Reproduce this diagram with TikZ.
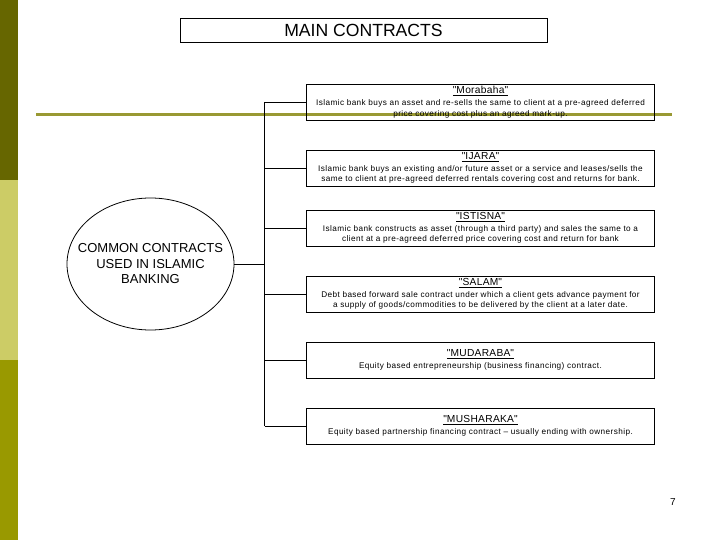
\documentclass[tikz,border=0pt]{standalone}
\usepackage{fontspec}
\setmainfont{Liberation Sans}
\newfontfamily\smallf{Liberation Sans}[LetterSpace=5]
\newfontfamily\titlef{Liberation Sans}[LetterSpace=3]
\usetikzlibrary{shapes.geometric}
\definecolor{barA}{HTML}{666600}
\definecolor{barB}{HTML}{CCCC66}
\definecolor{barC}{HTML}{999900}
\definecolor{olivrule}{HTML}{999933}
\newcommand\ctitle[1]{{\titlef\fontsize{10.2bp}{12bp}\selectfont\underline{\textquotedbl#1\textquotedbl}}\\[0.8bp]}
\begin{document}
\begin{tikzpicture}[x=1bp,y=-1bp,
  line width=0.8bp,
  cbox/.style={draw, rectangle, minimum width=348bp, minimum height=36bp, inner sep=0pt,
    align=center, font=\smallf\fontsize{8.2bp}{10.8bp}\selectfont},
  conn/.style={draw, line width=0.8bp}]
\useasboundingbox (0,0) rectangle (720,540);
% left bar
\fill[barA] (0,0) rectangle (18,180);
\fill[barB] (0,180) rectangle (18,360);
\fill[barC] (0,360) rectangle (18,540);
% olive rule
\draw[olivrule, line width=3.5bp] (36,114.5) -- (672,114.5);
% title
\node[draw, rectangle, minimum width=367bp, minimum height=24bp, inner sep=0pt,
  font=\fontsize{17.6bp}{19bp}\selectfont] (title) at (363.5,30) {MAIN CONTRACTS};
% ellipse
\node[ellipse, draw, minimum width=167bp, minimum height=132bp, inner sep=0pt] (ell) at (150.5,264) {};
\node[align=center, inner sep=0pt, font=\fontsize{13bp}{15.5bp}\selectfont] (elltext) at (ell.center)
  {COMMON CONTRACTS\\USED IN ISLAMIC\\BANKING};
% boxes
\node[cbox] (mor) at (480.5,102) {\ctitle{Morabaha}Islamic bank buys an asset and re-sells the same to client at a pre-agreed deferred\\price covering cost plus an agreed mark-up.};
\node[cbox] (ija) at (480.5,168) {\ctitle{IJARA}Islamic bank buys an existing and/or future asset or a service and leases/sells the\\same to client at pre-agreed deferred rentals covering cost and returns for bank.};
\node[cbox] (ist) at (480.5,228) {\ctitle{ISTISNA}Islamic bank constructs as asset (through a third party) and sales the same to a\\client at a pre-agreed deferred price covering cost and return for bank};
\node[cbox] (sal) at (480.5,294) {\ctitle{SALAM}Debt based forward sale contract under which a client gets advance payment for\\a supply of goods/commodities to be delivered by the client at a later date.};
\node[cbox] (mud) at (480.5,360) {\ctitle{MUDARABA}Equity based entrepreneurship (business financing) contract.};
\node[cbox] (mus) at (480.5,426) {\ctitle{MUSHARAKA}Equity based partnership financing contract – usually ending with ownership.};
% trunk coordinates
\coordinate (tE) at (264.5,264);
\coordinate (t1) at (264.5,102);
\coordinate (t2) at (264.5,168);
\coordinate (t3) at (264.5,228);
\coordinate (t4) at (264.5,294);
\coordinate (t5) at (264.5,360);
\coordinate (t6) at (264.5,426);
\draw[conn] (t1) -- (t6);
\draw[conn] (ell.east) -- (tE);
\draw[conn] (t1) -- (mor.west);
\draw[conn] (t2) -- (ija.west);
\draw[conn] (t3) -- (ist.west);
\draw[conn] (t4) -- (sal.west);
\draw[conn] (t5) -- (mud.west);
\draw[conn] (t6) -- (mus.west);
% page number
\node[font=\fontsize{10bp}{12bp}\selectfont, inner sep=0pt] (pnum) at (673,502) {7};
\end{tikzpicture}
\end{document}
